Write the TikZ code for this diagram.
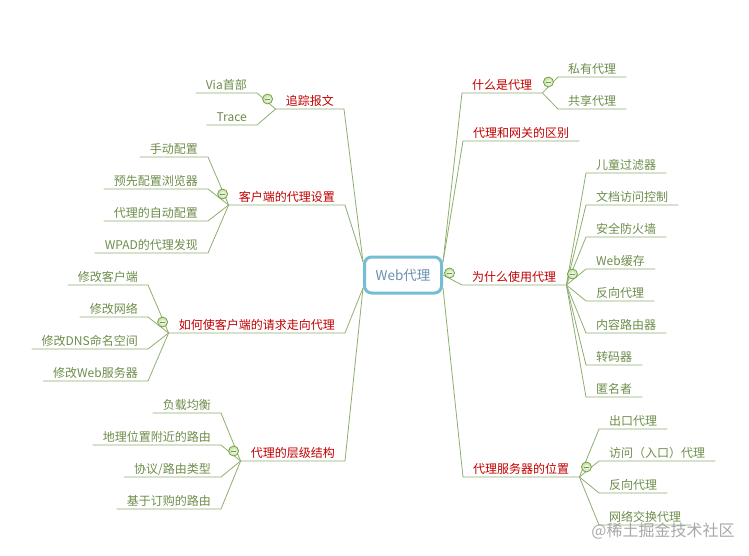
\documentclass[tikz,border=0pt]{standalone}
\usepackage{fontspec}
\usepackage{tikz}
\usetikzlibrary{positioning, calc}
\newfontfamily\cjk{Noto Sans CJK SC}
\definecolor{mapline}{HTML}{8FAE6E}
\definecolor{mapleaf}{HTML}{6E8C4A}
\definecolor{mapred}{HTML}{C00000}
\definecolor{maproot}{HTML}{74BDD3}
\definecolor{maproottext}{HTML}{6790B3}
\definecolor{foldlight}{HTML}{BEDD98}
\definecolor{folddark}{HTML}{6F9A45}

\begin{document}
\begin{tikzpicture}[
    x=1pt, y=-1pt,
    hub/.style={rectangle, draw=maproot, line width=3pt, rounded corners=7pt, fill=white, minimum width=77pt, minimum height=36pt, text=maproottext, font=\cjk\fontsize{13.5}{15}\selectfont},
    topic/.style={inner xsep=10pt, inner ysep=2pt, text height=10pt, text depth=1.5pt, text=mapred, font=\cjk\fontsize{12}{14}\selectfont},
    leaf/.style={topic, text=mapleaf},
    link/.style={draw=mapline, line width=0.8pt},
    fold/.style={circle, draw=folddark, line width=0.7pt, inner color=white, outer color=foldlight, minimum size=10pt, inner sep=0pt,
        path picture={\draw[folddark, line width=0.9pt] ([xshift=-2.6pt]path picture bounding box.center) -- ([xshift=2.6pt]path picture bounding box.center);}},
    watermark/.style={text=black!40, opacity=0.85, font=\cjk\fontsize{16}{18}\selectfont}
]
\useasboundingbox (0,0) rectangle (749,556);

\node[hub] (root) at (403,275) {Web代理};

\node[topic, anchor=south east] (trace) at (344,109) {追踪报文};
\node[topic, anchor=south east] (cfg) at (345,205) {客户端的代理设置};
\node[topic, anchor=south east] (redir) at (345,333) {如何使客户端的请求走向代理};
\node[topic, anchor=south east] (hier) at (345,461) {代理的层级结构};
\node[topic, anchor=south west] (what) at (462,93) {什么是代理};
\node[topic, anchor=south west] (gw) at (463,141) {代理和网关的区别};
\node[topic, anchor=south west] (why) at (462,285) {为什么使用代理};
\node[topic, anchor=south west] (loc) at (463,477) {代理服务器的位置};

\node[leaf, anchor=south east] (via) at (257,93) {Via首部};
\node[leaf, anchor=south east] (tr) at (257,125) {Trace};

\node[leaf, anchor=south east] (manual) at (208,157) {手动配置};
\node[leaf, anchor=south east] (preset) at (208,189) {预先配置浏览器};
\node[leaf, anchor=south east] (auto) at (208,221) {代理的自动配置};
\node[leaf, anchor=south east] (wpad) at (208,253) {WPAD的代理发现};

\node[leaf, anchor=south east] (mclient) at (148,285) {修改客户端};
\node[leaf, anchor=south east] (mnet) at (148,317) {修改网络};
\node[leaf, anchor=south east] (mdns) at (148,349) {修改DNS命名空间};
\node[leaf, anchor=south east] (mweb) at (148,381) {修改Web服务器};

\node[leaf, anchor=south east] (lb) at (221,413) {负载均衡};
\node[leaf, anchor=south east] (geo) at (221,445) {地理位置附近的路由};
\node[leaf, anchor=south east] (proto) at (221,477) {协议/路由类型};
\node[leaf, anchor=south east] (sub) at (221,509) {基于订购的路由};

\node[leaf, anchor=south west] (priv) at (558,77) {私有代理};
\node[leaf, anchor=south west] (shared) at (558,109) {共享代理};

\node[leaf, anchor=south west] (kid) at (586,173) {儿童过滤器};
\node[leaf, anchor=south west] (acl) at (586,205) {文档访问控制};
\node[leaf, anchor=south west] (fw) at (586,237) {安全防火墙};
\node[leaf, anchor=south west] (cache) at (586,269) {Web缓存};
\node[leaf, anchor=south west] (rev) at (586,301) {反向代理};
\node[leaf, anchor=south west] (route) at (586,333) {内容路由器};
\node[leaf, anchor=south west] (trans) at (586,365) {转码器};
\node[leaf, anchor=south west] (anon) at (586,397) {匿名者};

\node[leaf, anchor=south west] (egress) at (599,429) {出口代理};
\node[leaf, anchor=south west] (ingress) at (599,461) {访问（入口）代理};
\node[leaf, anchor=south west] (revloc) at (599,493) {反向代理};
\node[leaf, anchor=south west] (xchg) at (599,525) {网络交换代理};

\draw[link] (root.162) -- (trace.south east) -- (trace.south west);
\draw[link] (root.162) -- (cfg.south east) -- (cfg.south west);
\draw[link] (root.198) -- (redir.south east) -- (redir.south west);
\draw[link] (root.198) -- (hier.south east) -- (hier.south west);
\draw[link] (root.18) -- (what.south west) -- (what.south east);
\draw[link] (root.18) -- (gw.south west) -- (gw.south east);
\draw[link] (root.east) -- (why.south west) -- (why.south east);
\draw[link] (root.342) -- (loc.south west) -- (loc.south east);

\draw[link] (trace.south west) -- (via.south east) -- (via.south west);
\draw[link] (trace.south west) -- (tr.south east) -- (tr.south west);

\draw[link] (cfg.south west) -- (manual.south east) -- (manual.south west);
\draw[link] (cfg.south west) -- (preset.south east) -- (preset.south west);
\draw[link] (cfg.south west) -- (auto.south east) -- (auto.south west);
\draw[link] (cfg.south west) -- (wpad.south east) -- (wpad.south west);

\draw[link] (redir.south west) -- (mclient.south east) -- (mclient.south west);
\draw[link] (redir.south west) -- (mnet.south east) -- (mnet.south west);
\draw[link] (redir.south west) -- (mdns.south east) -- (mdns.south west);
\draw[link] (redir.south west) -- (mweb.south east) -- (mweb.south west);

\draw[link] (hier.south west) -- (lb.south east) -- (lb.south west);
\draw[link] (hier.south west) -- (geo.south east) -- (geo.south west);
\draw[link] (hier.south west) -- (proto.south east) -- (proto.south west);
\draw[link] (hier.south west) -- (sub.south east) -- (sub.south west);

\draw[link] (what.south east) -- (priv.south west) -- (priv.south east);
\draw[link] (what.south east) -- (shared.south west) -- (shared.south east);

\draw[link] (why.south east) -- (kid.south west) -- (kid.south east);
\draw[link] (why.south east) -- (acl.south west) -- (acl.south east);
\draw[link] (why.south east) -- (fw.south west) -- (fw.south east);
\draw[link] (why.south east) -- (cache.south west) -- (cache.south east);
\draw[link] (why.south east) -- (rev.south west) -- (rev.south east);
\draw[link] (why.south east) -- (route.south west) -- (route.south east);
\draw[link] (why.south east) -- (trans.south west) -- (trans.south east);
\draw[link] (why.south east) -- (anon.south west) -- (anon.south east);

\draw[link] (loc.south east) -- (egress.south west) -- (egress.south east);
\draw[link] (loc.south east) -- (ingress.south west) -- (ingress.south east);
\draw[link] (loc.south east) -- (revloc.south west) -- (revloc.south east);
\draw[link] (loc.south east) -- (xchg.south west) -- (xchg.south east);

\node[fold] (root-f) at ([xshift=6.5pt, yshift=2pt]root.east) {};
\node[fold] (trace-f) at ([xshift=-8pt, yshift=10pt]trace.south west) {};
\node[fold] (cfg-f) at ([xshift=-6pt, yshift=11pt]cfg.south west) {};
\node[fold] (redir-f) at ([xshift=-6pt, yshift=11pt]redir.south west) {};
\node[fold] (hier-f) at ([xshift=-7pt, yshift=10pt]hier.south west) {};
\node[fold] (what-f) at ([xshift=6pt, yshift=11pt]what.south east) {};
\node[fold] (why-f) at ([xshift=6pt, yshift=11pt]why.south east) {};
\node[fold] (loc-f) at ([xshift=7pt, yshift=10pt]loc.south east) {};

\node[watermark] (wm) at (663,531) {@稀土掘金技术社区};
\end{tikzpicture}
\end{document}
